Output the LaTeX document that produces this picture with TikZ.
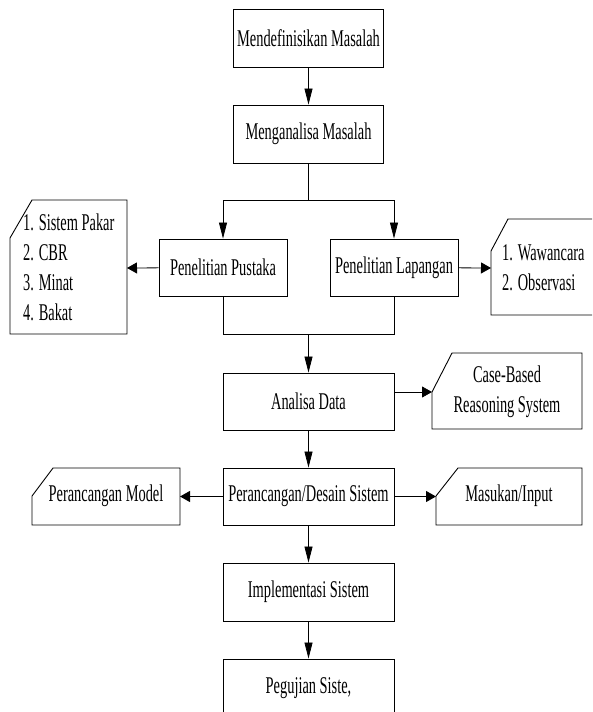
\documentclass[tikz,border=0pt]{standalone}
\usepackage{fontspec}
\setmainfont[FakeStretch=0.6]{Liberation Serif}
\usetikzlibrary{arrows.meta}
\begin{document}
\begin{tikzpicture}[x=1pt,y=-1pt,
  every node/.style={font=\fontsize{24}{30}\selectfont, inner sep=0pt},
  stepbox/.style={draw, line width=0.9pt, minimum width=#1, minimum height=57pt},
  stepbox/.default=171pt,
  card/.style={draw, line width=0.9pt},
  flow/.style={line width=0.8pt},
  varrow/.style={flow, -{Triangle[length=16pt, width=8pt]}},
  harrow/.style={flow, -{Triangle[length=10pt, width=11pt]}}]
\useasboundingbox (0,0) rectangle (592,712);
\clip (0,0) rectangle (592,712);

% main process steps
\node[stepbox=150pt, minimum height=58pt] (mdef) at (308.5,38) {Mendefinisikan Masalah};
\node[stepbox=150pt, minimum height=58pt] (mana) at (308.5,134) {Menganalisa Masalah};
\node[stepbox=128pt] (pust) at (223,267.5) {Penelitian Pustaka};
\node[stepbox=128pt] (lapa) at (394,267.5) {Penelitian Lapangan};
\node[stepbox] (anal) at (308.5,401.5) {Analisa Data};
\node[stepbox] (desn) at (308.5,496.5) {Perancangan/Desain Sistem};
\node[stepbox, minimum height=58pt] (impl) at (308.5,592) {Implementasi Sistem};
\node[stepbox, minimum height=58pt] (peng) at (308.5,688) {Pegujian Siste,};

% side cards with a clipped corner
\draw[card] (10,238) -- (32,200) -- (127,200) -- (127,334) -- (10,334) -- cycle;
\node[anchor=west, align=left] (litlist) at (23,267.5) {1. Sistem Pakar\\2. CBR\\3. Minat\\4. Bakat};
\coordinate (litin) at (127,268);

\draw[card] (491,251) -- (508,219) -- (600,219) -- (600,315) -- (491,315) -- cycle;
\node[anchor=west, align=left] (fieldlist) at (502,268) {1. Wawancara\\2. Observasi};
\coordinate (fieldin) at (491,268);

\draw[card] (432,392) -- (452,353) -- (582,353) -- (582,429) -- (432,429) -- cycle;
\node[align=center] (cbr) at (507,392) {Case-Based\\Reasoning System};
\coordinate (cbrin) at (432,392);

\draw[card] (32,496) -- (53,468) -- (180,468) -- (180,525) -- (32,525) -- cycle;
\node (model) at (106,496) {Perancangan Model};
\coordinate (modelin) at (180,496.5);

\draw[card] (436,496) -- (458,468) -- (582,468) -- (582,525) -- (436,525) -- cycle;
\node (input) at (509,496) {Masukan/Input};
\coordinate (inputin) at (436,496.5);

% connectors
\coordinate (split) at (308.5,200);
\coordinate (merge) at (308.5,334);
\draw[varrow] (mdef) -- (mana);
\draw[flow] (mana) -- (split);
\draw[varrow] (split) -| (pust);
\draw[varrow] (split) -| (lapa);
\draw[flow] (pust) |- (merge);
\draw[flow] (lapa) |- (merge);
\draw[varrow] (merge) -- (anal);
\draw[harrow] (pust) -- (litin);
\draw[harrow] (lapa) -- (fieldin);
\draw[harrow] (anal.east |- cbrin) -- (cbrin);
\draw[varrow] (anal) -- (desn);
\draw[harrow] (desn) -- (modelin);
\draw[harrow] (desn) -- (inputin);
\draw[varrow] (desn) -- (impl);
\draw[varrow] (impl) -- (peng);
\end{tikzpicture}
\end{document}
